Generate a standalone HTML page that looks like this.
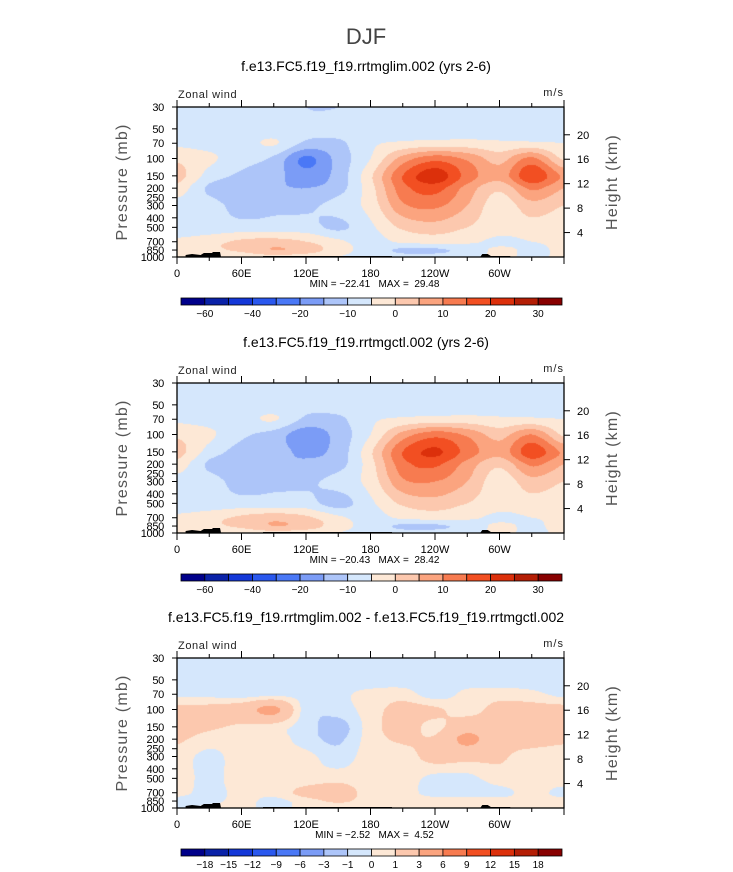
<!DOCTYPE html>
<html><head><meta charset="utf-8">
<style>
body{margin:0;background:#fff;width:733px;height:872px;overflow:hidden;font-family:"Liberation Sans",sans-serif}
svg text{font-family:"Liberation Sans",sans-serif;white-space:pre}
canvas{position:absolute}
</style></head>
<body>
<div id="wrap" style="position:relative;width:733px;height:872px">
<svg id="svg" width="733" height="872" style="position:absolute;left:0;top:0"></svg>
</div>
<script>
// ---- data ----
const lons = [0,30,60,90,120,150,180,210,240,270,300,330,360];
const levels = [30,50,70,100,150,200,300,500,700,850,1000];
const uLim = [
[-3,-3,-3,-3,-5,-5,-3,-3,-5,-3,-3,-3,-3],
[-2,-3,-3,-3,-4,-3,-3,-3,-3,-3,-3,-3,-2],
[-1,-2,-2,0.5,-6,-6,-1,1,2,2,1,1,0],
[4,1,-3,-6,-16,-8,0,12,18,14,8,16,4],
[7,-2,-6,-8,-13,-8,4,20,28,18,12,24,14],
[3,-6,-8,-9,-10,-7,3,18,22,13,6,16,10],
[-2,-3,-7,-6,-6,-3,2,14,16,10,2,8,5],
[-3,-3,-3,-3,-3,-6,-1,6,8,5,2,3,2],
[1,3,6,7,5,1,-2,1,2,1,-1,0,1],
[2,4,6,10,8,2,-2,-6,-6,-3,1,-1,1],
[1,2,2,3,2,0,-2,-3,-3,-2,1,-1,1]];
const uCtl = [
[-3,-3,-3,-3,-4,-4,-3,-3,-4,-3,-3,-3,-3],
[-2,-3,-3,-3,-4,-3,-3,-3,-3,-3,-3,-3,-2],
[-1,-2,-2,0.5,-6,-6,-1,1,2,2,1,1,0],
[4,1,-4,-7,-13,-8,0,12,18,14,8,15,4],
[7,-2,-7,-8,-11,-8,4,20,26,18,12,23,14],
[3,-6,-8,-9,-9,-7,3,18,21,13,6,16,10],
[-2,-3,-7,-6,-6,-3,2,14,15,10,2,8,5],
[-3,-3,-3,-3,-3,-7,-1,6,8,5,2,3,2],
[1,3,6,8,6,1,-2,1,2,1,-1,0,1],
[2,4,6,10,8,2,-2,-6,-6,-3,1,-1,2],
[1,2,2,3,2,0,-2,-3,-3,-2,1,-1,1]];
const uDiff = [
[-0.5,-0.5,-0.5,-0.5,-0.5,-0.5,-0.5,-0.5,-0.5,-0.5,-0.5,-0.5,-0.5],
[-0.5,-0.5,-0.5,-0.5,-0.5,-0.5,-0.5,-0.5,-0.5,-0.5,-0.5,-0.5,-0.5],
[-0.3,-0.3,-0.5,-0.3,-0.3,-0.2,0.3,0.5,-0.5,0.3,0.5,0.3,-0.3],
[1.5,1.5,2,3.5,-0.5,-0.5,0.5,1.5,1.2,0.5,1.5,1.5,1.5],
[1.5,1.2,0.8,0.5,-0.5,-1.5,0.5,1.5,0.7,2,1.5,1.2,1.5],
[1.2,0.5,0.5,0.5,-0.5,-1.2,0.5,1.2,1.2,3.5,1.5,1.5,1.2],
[0.5,-0.3,0.5,0.5,0.3,-0.5,0.5,0.5,1.5,1.5,1.2,0.5,0.5],
[0.5,-0.3,0.5,0.3,0.3,0.5,0.3,0.5,-0.3,-0.3,0.5,0.3,0.5],
[0.3,-0.3,0.3,0.3,1.5,2,0.3,0.3,-0.3,-0.3,-0.3,0.3,-0.3],
[-0.3,-0.3,0.3,-0.3,0.5,1.2,0.5,0.3,0.3,0.3,0.3,0.3,0.3],
[-0.3,0.3,0.3,-0.3,0.3,0.5,0.3,0.3,0.3,0.3,0.3,0.3,0.3]];
const cnLevels = [-60,-50,-40,-30,-20,-15,-10,-5,0,5,10,15,20,25,30];
const cnLabels = ["-60","","-40","","-20","","-10","","0","","10","","20","","30"];
const dfLevels = [-18,-15,-12,-9,-6,-3,-1,0,1,3,6,9,12,15,18];
const dfLabels = ["-18","-15","-12","-9","-6","-3","-1","0","1","3","6","9","12","15","18"];
const colors = ["#00008a","#0a22a8","#1438d8","#2a58ee","#4a78f6","#7b9cf6","#adc5f9","#d5e7fc","#fde8d6","#fcc8ae","#fba47f","#f77b50","#f24f22","#dc300b","#b41e05","#880000"];
const pTicks = [30,50,70,100,150,200,250,300,400,500,700,850,1000];
const zTicks = [4,8,12,16,20];
const xTicks = [0,60,120,180,240,300];
const xTickLabels = ["0","60E","120E","180","120W","60W"];
const panels = [
 {top:107,title:"f.e13.FC5.f19_f19.rrtmglim.002 (yrs 2-6)",data:uLim,lev:cnLevels,lab:cnLabels,shift:1,mn:"-22.41",mx:"29.48"},
 {top:383,title:"f.e13.FC5.f19_f19.rrtmgctl.002 (yrs 2-6)",data:uCtl,lev:cnLevels,lab:cnLabels,shift:1,mn:"-20.43",mx:"28.42"},
 {top:658,title:"f.e13.FC5.f19_f19.rrtmglim.002 - f.e13.FC5.f19_f19.rrtmgctl.002",data:uDiff,lev:dfLevels,lab:dfLabels,shift:0,mn:"-2.52",mx:"4.52"}];
// ---- layout ----
const L=177,W=387,H=150;
const NS="http://www.w3.org/2000/svg";
const svg=document.getElementById('svg');
function xS(lon){return L+lon/360*W;}
function yS(p,top){return top+H*Math.log10(p/30)/Math.log10(1000/30);}
function mk(tag,attrs,parent){const e=document.createElementNS(NS,tag);for(const k in attrs)e.setAttribute(k,attrs[k]);(parent||svg).appendChild(e);return e;}
function txt(s,x,y,size,anchor,parent,extra){const t=mk('text',Object.assign({x:x,y:y,'font-size':size,'text-anchor':anchor||'middle',fill:'#000'},extra||{}),parent);t.textContent=s;return t;}
function cr(p0,p1,p2,p3,t){return p1+0.5*t*(p2-p0+t*(2*p0-5*p1+4*p2-p3+t*(3*(p1-p2)+p3-p0)));}
function sample(d,xi,yi){
 const nx=d[0].length,ny=d.length;
 const i=Math.min(Math.floor(xi),nx-2),j=Math.min(Math.floor(yi),ny-2);
 const tx=xi-i,ty=yi-j;
 const g=(a,b)=>d[Math.max(0,Math.min(ny-1,b))][Math.max(0,Math.min(nx-1,a))];
 const rows=[];
 for(let r=-1;r<=2;r++)rows.push(cr(g(i-1,j+r),g(i,j+r),g(i+1,j+r),g(i+2,j+r),tx));
 return cr(rows[0],rows[1],rows[2],rows[3],ty);
}
function hex(c){return [parseInt(c.substr(1,2),16),parseInt(c.substr(3,2),16),parseInt(c.substr(5,2),16)];}
const rgb=colors.map(hex);
const mt=txt("DJF",366,44,22,'middle',svg,{fill:'#444'});


panels.forEach((P,pi)=>{
 const g=mk('g',{});
 
 
 const top=P.top;
 const cv=document.createElement('canvas');cv.width=W;cv.height=H;
 cv.style.left=L+'px';cv.style.top=top+'px';
 
 
 document.getElementById('wrap').insertBefore(cv,svg);
 const ctx=cv.getContext('2d');const img=ctx.createImageData(W,H);
 const lg=levels.map(p=>Math.log10(p));
 for(let py=0;py<H;py++){
  const lp=Math.log10(30)+(py+0.5)/H*Math.log10(1000/30);
  let j=0;while(j<levels.length-2&&lp>lg[j+1])j++;
  const yi=j+(lp-lg[j])/(lg[j+1]-lg[j]);
  for(let px=0;px<W;px++){
   const xi=(px+0.5)/W*(lons.length-1);
   const v=sample(P.data,xi,yi);
   let k=0;while(k<P.lev.length&&v>=P.lev[k])k++;
   k=Math.max(0,k-P.shift);
   const c=rgb[k];const o=(py*W+px)*4;
   img.data[o]=c[0];img.data[o+1]=c[1];img.data[o+2]=c[2];img.data[o+3]=255;
  }
 }
 ctx.putImageData(img,0,0);
 const topo=mk('path',{d:`M${xS(8)} ${top+H} L${xS(8)} ${top+H-2} L${xS(14)} ${top+H-3} L${xS(22)} ${top+H-2} L${xS(25)} ${top+H-4} L${xS(33)} ${top+H-4} L${xS(33)} ${top+H-5} L${xS(40)} ${top+H-5} L${xS(41)} ${top+H} Z M${xS(80)} ${top+H} L${xS(80)} ${top+H-1} L${xS(200)} ${top+H-1} L${xS(200)} ${top+H} Z M${xS(282)} ${top+H} L${xS(284)} ${top+H-3} L${xS(289)} ${top+H-3} L${xS(292)} ${top+H-1} L${xS(310)} ${top+H-1} L${xS(310)} ${top+H}Z`,fill:'#000'},g);
 
 
 const fr=mk('rect',{x:L,y:top,width:W,height:H,fill:'none',stroke:'#000','stroke-width':1.3},g);
 
 
 const tt=txt(P.title,366,top-36,14,'middle',g);
 
 
 const zw=txt("Zonal wind",178,top-9,11,'start',g,{fill:'#222','letter-spacing':'0.6'});
 
 
 const un=txt("m/s",564,top-11,11,'end',g,{fill:'#222','letter-spacing':'1'});
 
 
 for(let lon=0;lon<=360;lon+=30){
  const big=lon%60===0;const x=xS(lon);
  mk('line',{x1:x,x2:x,y1:top,y2:top-(big?7:4),stroke:'#000'},g);
  mk('line',{x1:x,x2:x,y1:top+H,y2:top+H+(big?7:4),stroke:'#000'},g);
 }
 xTicks.forEach((lon,i)=>{const t=txt(xTickLabels[i],xS(lon),top+H+20,11,i===0?'start':'middle',g);
  if(i===0)t.setAttribute('x',xS(lon)-3);
  
  });
 const mm=txt("MIN = "+P.mn.replace('-','\u2212')+"   MAX =  "+P.mx,xS(180)+4,top+H+30,10,'middle',g);
 
 
 pTicks.forEach(p=>{const y=yS(p,top);
  mk('line',{x1:L,x2:L-5,y1:y,y2:y,stroke:'#000'},g);
  const t=txt(String(p),L-13,y+4,11,'end',g,{'letter-spacing':'-0.3'});
  
  
 });
 zTicks.forEach(z=>{const p=1000*Math.exp(-z/7);const y=yS(p,top);
  mk('line',{x1:L+W,x2:L+W+6,y1:y,y2:y,stroke:'#000'},g);
  const t=txt(String(z),L+W+13,y+4,11,'start',g);
  
  
 });
 const ya=txt("Pressure (mb)",0,0,16,'middle',g,{transform:`translate(127,${top+75}) rotate(-90)`,fill:'#555','letter-spacing':'1.2'});
 
 
 const ya2=txt("Height (km)",0,0,16,'middle',g,{transform:`translate(617,${top+75}) rotate(-90)`,fill:'#555','letter-spacing':'1.2'});
 
 
 const cb=mk('g',{},g);
 
 
 const cx0=181,cw=381/16,cy=top+191;
 colors.forEach((c,i)=>{const r=mk('rect',{x:cx0+i*cw,y:cy,width:cw,height:7,fill:c,stroke:'#000','stroke-width':0.8},cb);
  
  });
 P.lab.forEach((s,i)=>{if(!s)return;const t=txt(s.replace('-','\u2212'),cx0+(i+1)*cw,cy+19,10,'middle',cb);
  
  });
});
</script>
</body></html>
